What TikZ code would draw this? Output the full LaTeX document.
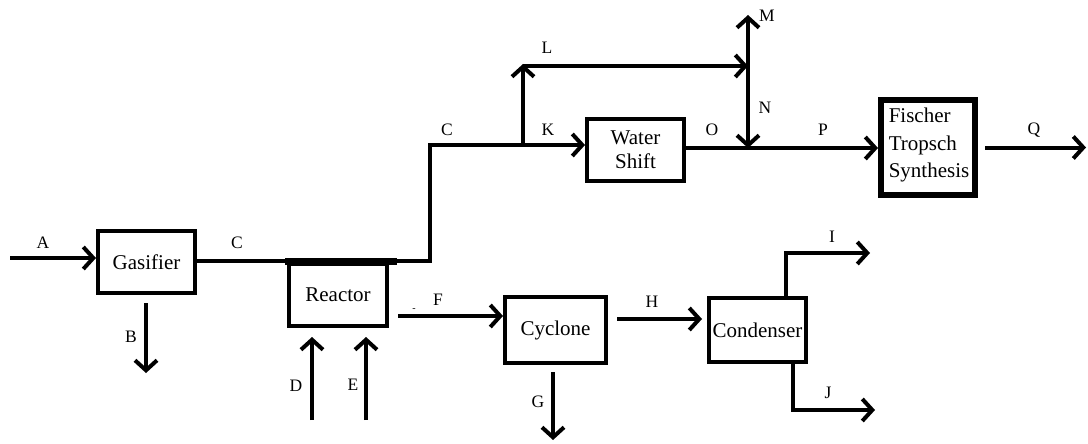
\documentclass[tikz,border=0pt]{standalone}
\usepackage{fontspec}
\setmainfont{Liberation Serif}
\usetikzlibrary{arrows.meta}
\begin{document}
\begin{tikzpicture}[x=1pt,y=-1pt,
  unit/.style={draw, line width=4pt, rectangle, inner sep=0pt, align=center,
    font=\fontsize{21}{24}\selectfont},
  pipe/.style={line width=4pt},
  flow/.style={pipe, -{Straight Barb[length=10pt,width=22pt]}},
  lbl/.style={font=\fontsize{17.5}{20}\selectfont, inner sep=0pt}]
\useasboundingbox (0,0) rectangle (1088,444);

% process units
\node[unit, minimum width=97pt, minimum height=62pt] (gas) at (146.5,262) {Gasifier};
\node[unit, minimum width=98pt, minimum height=62pt] (re) at (338,295) {Reactor};
\node[unit, minimum width=97pt, minimum height=62pt] (ws) at (635.5,150) {Water\\Shift};
\node[unit, minimum width=101pt, minimum height=66pt] (cyc) at (555.5,330) {Cyclone};
\node[unit, minimum width=97pt, minimum height=64pt] (cond) at (757.5,330) {Condenser};
\node[unit, line width=6pt, minimum width=94pt, minimum height=95pt] (ft) at (928,147.5) {};
\node[align=left, inner sep=0pt, font=\fontsize{21}{27.5}\selectfont] (fttext) at (929,145)
  {Fischer\\Tropsch\\Synthesis};

% heavy top edge of the reactor
\draw[line width=7pt] (285,261.5) -- (397,261.5);

% junction points and free stream ends
\coordinate (a0) at (10,258);
\coordinate (b1) at (146,373);
\coordinate (c1) at (430,261);
\coordinate (c2) at (430,145);
\coordinate (kj) at (523,145);
\coordinate (lt) at (523,66);
\coordinate (mj) at (748,66);
\coordinate (mt) at (748,15);
\coordinate (nj) at (748,148);
\coordinate (q1) at (1086,147.5);
\coordinate (d0) at (312,420);
\coordinate (e0) at (366,420);
\coordinate (f0) at (398,316);
\coordinate (g1) at (553,440);
\coordinate (h0) at (617,319);
\coordinate (i1) at (786,253);
\coordinate (i2) at (870,253);
\coordinate (j1) at (793,410);
\coordinate (j2) at (875,410);

% streams
\draw[flow] (a0) -- (gas.west |- a0);
\draw[flow, shorten <=8pt] (gas.south -| b1) -- (b1);
\draw[pipe] (gas.east |- c1) -- (c1) -- (c2) -- (kj);
\draw[flow] (kj) -- (ws.west |- kj);
\draw[flow] (kj) -- ([yshift=2pt]lt);
\draw[flow] (lt) -- (mj);
\draw[flow] (mj) -- (mt);
\draw[flow] (mj) -- (nj);
\draw[pipe] (ws.east |- nj) -- (nj);
\draw[flow] (nj) -- (ft.west |- nj);
\draw[flow, shorten <=7pt] (ft.east) -- (q1);
\draw[flow, shorten >=9pt] (d0) -- (re.south -| d0);
\draw[flow, shorten >=9pt] (e0) -- (re.south -| e0);
\draw[flow] (f0) -- (cyc.west |- f0);
\draw[flow, shorten <=7pt] (cyc.south -| g1) -- (g1);
\draw[flow, shorten >=5pt] (h0) -- (cond.west |- h0);
\draw[flow] (cond.north -| i1) -- (i1) -- (i2);
\draw[flow] (cond.south -| j1) -- (j1) -- (j2);

% stream labels
\node[lbl] (la) at (43,243) {A};
\node[lbl] (lb) at (131,337) {B};
\node[lbl] (lc) at (237,243) {C};
\node[lbl] (lc2) at (447,130) {C};
\node[lbl] (lk) at (548,130) {K};
\node[lbl] (ll) at (547,48) {L};
\node[lbl] (lm) at (767,16) {M};
\node[lbl] (ln) at (765,108) {N};
\node[lbl] (lo) at (712,130) {O};
\node[lbl] (lp) at (823,130) {P};
\node[lbl] (lq) at (1034,130) {Q};
\node[lbl] (ld) at (296,386) {D};
\node[lbl] (le) at (353,385) {E};
\node[lbl] (ldash) at (414,310) {\fontsize{10}{12}\selectfont -};
\node[lbl] (lf) at (438,300) {F};
\node[lbl] (lg) at (538,402) {G};
\node[lbl] (lh) at (652,302) {H};
\node[lbl] (li) at (832,237) {I};
\node[lbl] (lj) at (828,393) {J};
\end{tikzpicture}
\end{document}
